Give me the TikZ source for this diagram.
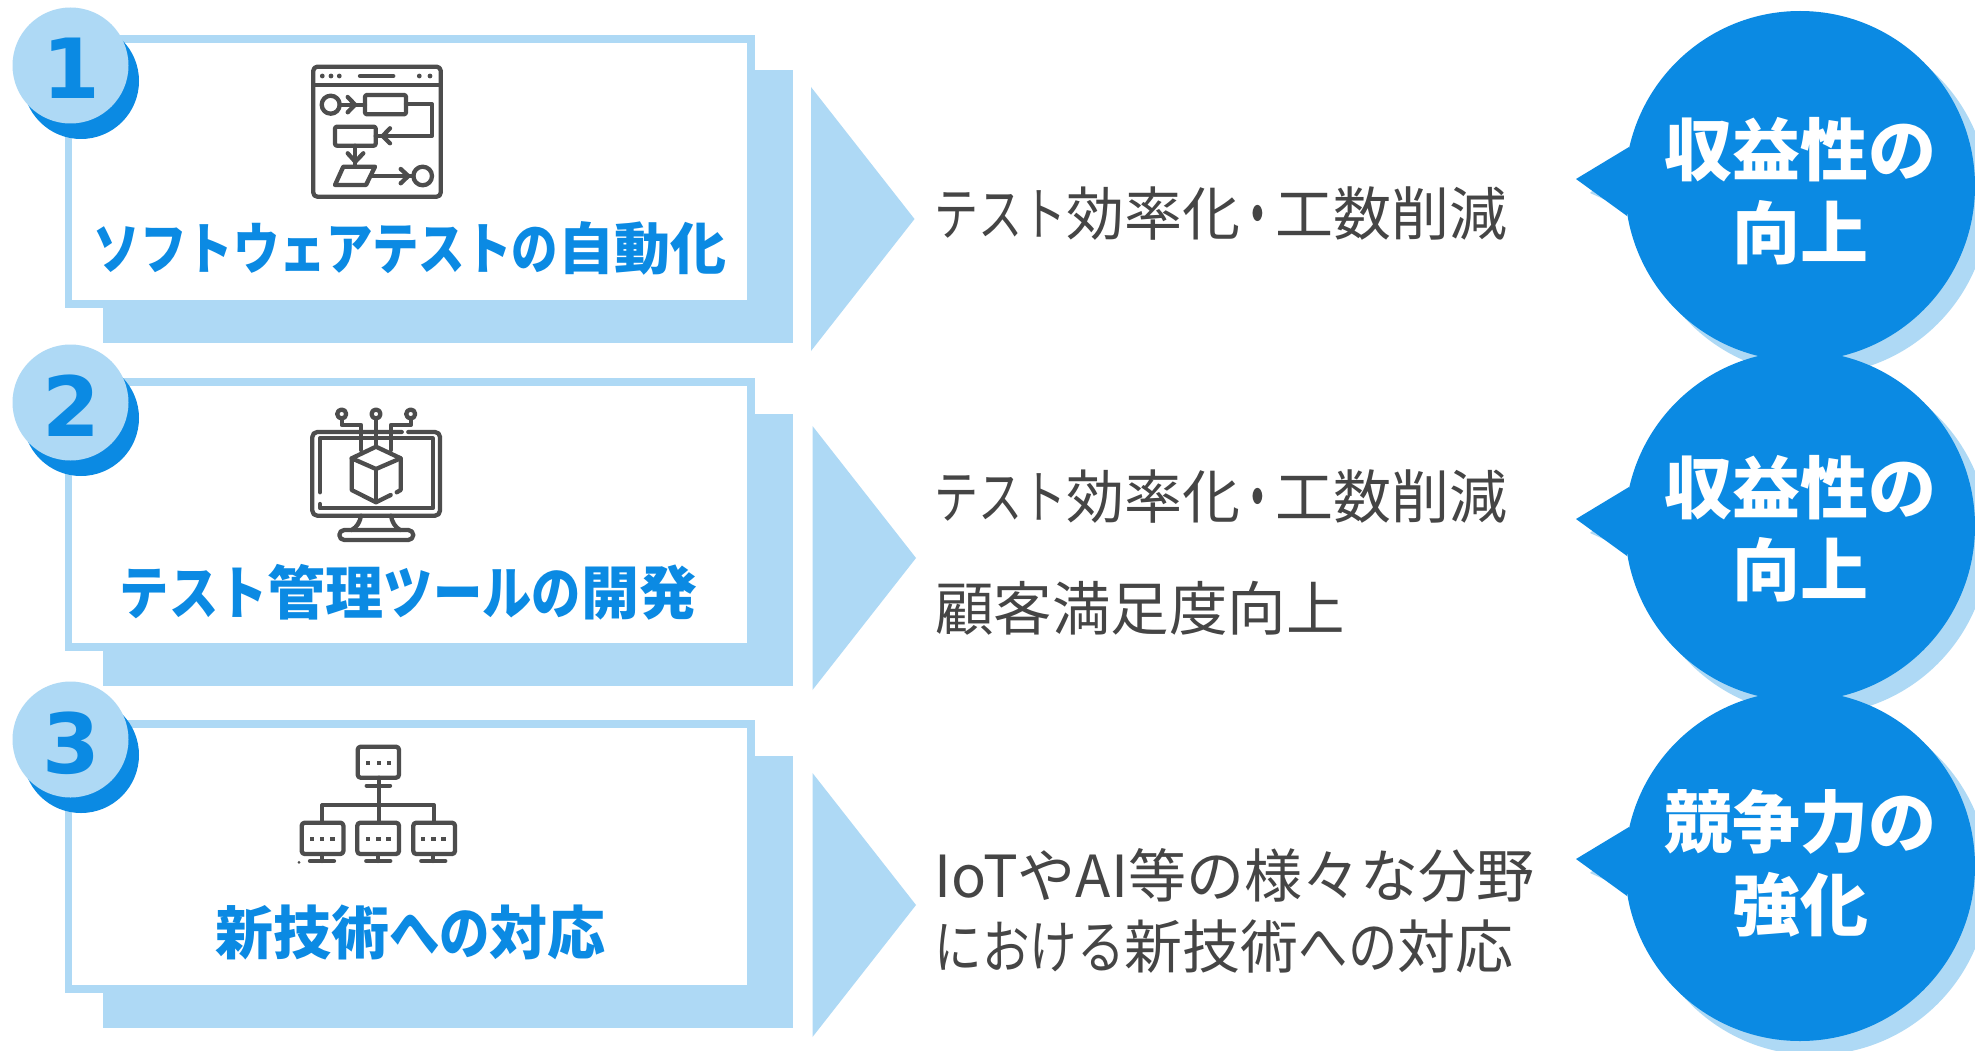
\documentclass[tikz,border=0pt]{standalone}
\usepackage{fontspec}
\setmainfont{Noto Sans CJK JP}
\newfontfamily\numfont{DejaVu Sans}[BoldFont={DejaVu Sans Bold}]
\definecolor{bluedark}{HTML}{0B8AE3}
\definecolor{bluelight}{HTML}{AED9F5}
\definecolor{icongray}{HTML}{4D4D4D}
\definecolor{textgray}{HTML}{454545}
\newcommand{\sx}[2]{\scalebox{#1}[1]{#2}}
\tikzset{
  iconline/.style={draw=icongray,line width=4.3pt,line join=round,line cap=round},
  cardframe/.style={fill=bluelight},
  cardface/.style={fill=white},
  numtext/.style={text=bluedark,inner sep=0pt,font=\numfont\bfseries\fontsize{83}{83}\selectfont,anchor=base},
  title/.style={text=bluedark,inner sep=0pt,anchor=base,font=\bfseries\fontsize{58}{58}\selectfont},
  body/.style={text=textgray,inner sep=0pt,anchor=base west,font=\fontsize{58}{58}\selectfont},
  bubbletext/.style={text=white,inner sep=0pt,anchor=base,font=\bfseries\fontsize{68}{68}\selectfont},
}
\newcommand{\card}[4]{% top y of frame, y of badge, digit, name
  \fill[cardframe] (103,#1+35.5) rectangle (793,#1+308);
  \fill[cardframe] (64.5,#1) rectangle (754.5,#1+273);
  \fill[cardface] (72,#1+8) rectangle (747,#1+265);
  \fill[bluedark] (81,#2+46) circle (58);
  \fill[bluelight] (70.5,#2+30.5) circle (58);
  \node[numtext] (num#4) at (71,#2+64) {#3};
}
\newcommand{\arrowtri}[2]{% left x, top y
  \fill[bluelight] (#1,#2) -- (#1+103.5,#2+132) -- (#1,#2+264) -- cycle;
}
\newcommand{\bubble}[1]{% centre y
  \fill[bluelight] (1814,#1+14) circle (175);
  \fill[bluelight] (1590,#1+7) -- (1643,#1-39) -- (1641,#1+30) -- cycle;
  \fill[bluedark] (1800,#1) circle (175);
  \fill[bluedark] (1576,#1-7) -- (1629,#1-39) -- (1627,#1+30) -- cycle;
}
\begin{document}
\begin{tikzpicture}[x=1pt,y=-1pt]
\useasboundingbox (0,0) rectangle (1975,1051);
\fill[white] (0,0) rectangle (1975,1051);

\card{35}{35}{1}{a}
\card{378}{372}{2}{b}
\card{720}{709}{3}{c}

\node[title,font=\bfseries\fontsize{56}{56}\selectfont] (t1) at (410,269) {\sx{.83}{ソフトウェアテストの}自動化};
\node[title] (t2) at (408.5,614) {\sx{.85}{テスト}管理\sx{.85}{ツールの}開発};
\node[title] (t3) at (410.5,954) {新技術\sx{.87}{への}対応};

% icon 1
\draw[iconline,rounded corners=4pt] (313.3,66.7) rectangle (440.7,196.7);
\draw[iconline] (313.3,85) -- (440.7,85);
\foreach \px in {322.3,331,339.3,419.3,430}{\fill[icongray] (\px,76) circle (2.4);}
\draw[iconline] (360,76) -- (393.3,76);
\draw[iconline] (330.7,104.7) circle (9);
\draw[iconline] (339.7,104.7) -- (365,104.7);
\draw[iconline] (347.7,97) -- (355,104.7) -- (347.7,112.3);
\draw[iconline,rounded corners=2pt] (365,95) rectangle (406,114.3);
\draw[iconline] (406,104) -- (431.7,104) -- (431.7,136) -- (375.7,136);
\draw[iconline] (390,128.3) -- (382.7,136) -- (390,143.3);
\draw[iconline,rounded corners=2pt] (335,126.7) rectangle (375.7,145.7);
\draw[iconline] (355.3,145.7) -- (355.3,166.7);
\draw[iconline] (347.7,153.3) -- (355.3,161.7) -- (363.3,153.3);
\draw[iconline] (343.3,166.7) -- (375,166.7) -- (366,185) -- (335,185) -- cycle;
\draw[iconline] (370.7,176) -- (413.3,176);
\draw[iconline] (400.7,169) -- (408.3,176) -- (400.7,183.3);
\draw[iconline] (422.7,176) circle (9.3);

% icon 2
\draw[iconline,rounded corners=5pt] (401.7,432) -- (312.3,432) -- (312.3,515.7) -- (440,515.7) -- (440,432) -- (408.3,432);
\draw[iconline] (320,504) -- (320,508.3) -- (432.7,508.3) -- (432.7,438.3) -- (320,438.3) -- (320,492.3);
\foreach \px in {341.7,376,410.7}{\draw[iconline] (\px,414) circle (4.5);}
\draw[iconline] (341.7,418.5) -- (341.7,425) -- (361,425) -- (361,450);
\draw[iconline] (376,418.5) -- (376,446.7);
\draw[iconline] (410.7,418.5) -- (410.7,425) -- (391,425) -- (391,450);
\draw[iconline,fill=white] (376,446.7) -- (351.7,458.3) -- (351.7,490) -- (376,502.3) -- (390.7,495);
\draw[iconline] (396.7,492.3) -- (400.7,490) -- (400.7,458.3) -- (376,446.7);
\draw[iconline] (351.7,458.3) -- (376,469) -- (400.7,458.3);
\draw[iconline] (376,469) -- (376,502.3);
\draw[iconline] (361,515.7) .. controls (360,522) and (357,527) .. (351.7,530);
\draw[iconline] (391,515.7) .. controls (392,522) and (395,527) .. (400,530);
\draw[iconline,rounded corners=5pt] (339.3,530) rectangle (413.3,540);

% icon 3
\draw[iconline,rounded corners=3pt] (357.7,746.7) rectangle (399,777.7);
\foreach \px in {368.3,378.7,388.7}{\fill[icongray] (\px-2,761.3) rectangle (\px+2,765.3);}
\draw[iconline] (378.7,777.7) -- (378.7,822.7);
\draw[iconline] (366.7,785.7) -- (390,785.7);
\draw[iconline] (322.3,822.7) -- (322.3,805.3) -- (434,805.3) -- (434,822.7);
\foreach \lx/\cx in {301.7/322,357.3/378.3,413.3/433.3}{
  \draw[iconline,rounded corners=3pt] (\lx,822.7) rectangle (\lx+41.7,854);
  \foreach \dx in {-10.3,0,10.3}{\fill[icongray] (\cx+\dx-2.2,836.5) rectangle (\cx+\dx+2.2,841);}
  \draw[iconline] (\cx,854) -- (\cx,861);
  \draw[iconline] (\cx-12,861) -- (\cx+12,861);
}
\fill[icongray] (299,862.3) circle (1.5);

% arrows
\arrowtri{811}{87}
\arrowtri{812.5}{426}
\arrowtri{812.5}{773}

% body text
\node[body] (b1) at (934,235) {\sx{.76}{テスト}効率化\sx{.6}{\bfseries ・}工数削減};
\node[body] (b2) at (934,518) {\sx{.76}{テスト}効率化\sx{.6}{\bfseries ・}工数削減};
\node[body,font=\fontsize{58.5}{58.5}\selectfont] (b3) at (935,630) {顧客満足度向上};
\node[body] (b4) at (934.5,897) {IoTやAI等の様々な分野};
\node[body] (b5) at (934.5,968) {\sx{.82}{における}新技術\sx{.85}{への}対応};

% bubbles
\bubble{186}
\bubble{526}
\bubble{866}

\node[bubbletext] (c1) at (1800,176) {収益性の};
\node[bubbletext] (c2) at (1800,258) {向上};
\node[bubbletext] (c3) at (1800,513) {収益性の};
\node[bubbletext] (c4) at (1800,595) {向上};
\node[bubbletext] (c5) at (1800,847) {競争力の};
\node[bubbletext] (c6) at (1800,930) {強化};
\end{tikzpicture}
\end{document}
